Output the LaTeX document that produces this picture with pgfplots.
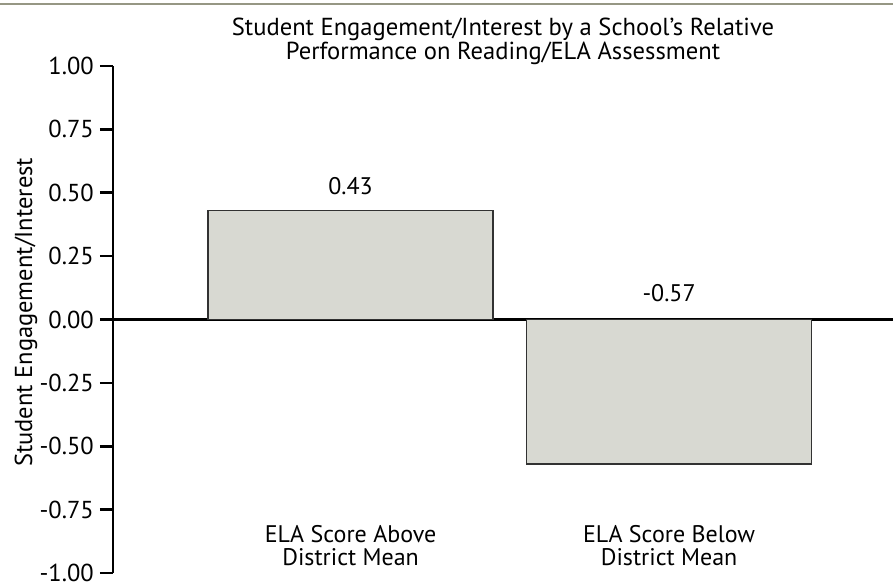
\documentclass[border=0pt]{standalone}
\usepackage{pgfplots}
\pgfplotsset{compat=1.18}
\usepackage{fontspec}
\setmainfont{PT Sans}
\definecolor{barfill}{RGB}{216,217,210}
\definecolor{baredge}{RGB}{50,50,50}
\definecolor{topline}{RGB}{150,151,132}
\newcommand{\chartfont}{\fontsize{24bp}{23.5bp}\selectfont}
\begin{document}
\chartfont
\begin{tikzpicture}[x=1bp,y=1bp]
\useasboundingbox (0,0) rectangle (893,588);
\draw[topline, line width=2.2bp] (0,584) -- (893,584);
\begin{axis}[
  at={(113bp,15bp)},
  scale only axis, width=780bp, height=507bp,
  anchor=south west,
  xmin=-0.746, xmax=1.703,
  ymin=-1, ymax=1,
  axis y line=left, axis x line=middle,
  axis line style={-, line width=2.6bp, black},
  xtick=\empty,
  ytick={-1,-0.75,...,1},
  /pgf/number format/fixed,
  /pgf/number format/fixed zerofill,
  /pgf/number format/precision=2,
  /pgf/number format/assume math mode=true,
  yticklabel style={font=\fontsize{24.5bp}{24bp}\selectfont, xshift=2bp},
  tick align=outside,
  major tick length=13bp,
  every tick/.style={black, line width=2.6bp},
  clip=false,
  title={Student Engagement/Interest by a School's Relative\\Performance on Reading/ELA Assessment},
  title style={at={(rel axis cs:0.5,1)}, anchor=base, yshift=1bp, align=center, inner sep=0pt, font=\fontsize{24.6bp}{24bp}\selectfont},
  ylabel={Student Engagement/Interest},
  every axis y label/.style={at={(rel axis cs:-0.1115,0.514)}, rotate=90, anchor=center, font=\fontsize{24.5bp}{24bp}\selectfont},
  ybar, bar width=0.895,
]
\addplot[fill=barfill, draw=baredge, line width=1.3bp] coordinates {(0,0.43) (1,-0.57)};
\node[anchor=base, inner sep=0pt] at (axis cs:0,0.43) [yshift=16bp] {0.43};
\node[anchor=base, inner sep=0pt] at (axis cs:1,0) [yshift=18bp] {-0.57};
\node[anchor=base, align=center, inner sep=0pt] at (axis cs:0,-1) [yshift=7bp] {ELA Score Above\\District Mean};
\node[anchor=base, align=center, inner sep=0pt] at (axis cs:1,-1) [yshift=7bp] {ELA Score Below\\District Mean};
\end{axis}
\end{tikzpicture}
\end{document}
